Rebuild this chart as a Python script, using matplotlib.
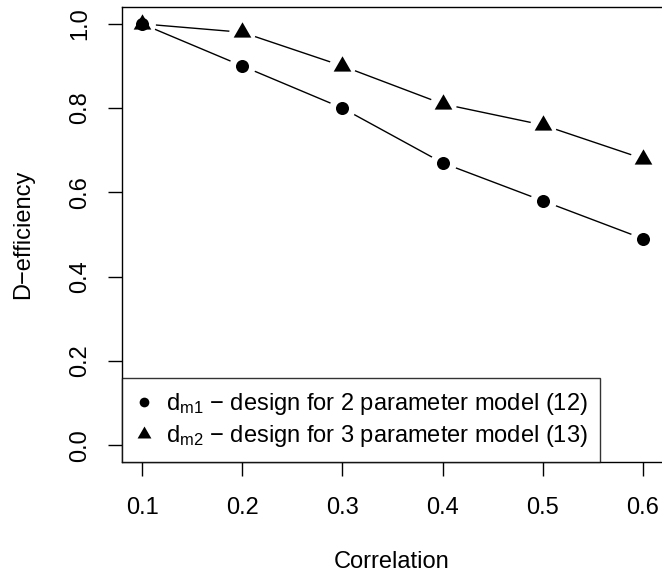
import numpy as np
import matplotlib.pyplot as plt
from matplotlib.path import Path
from matplotlib.lines import Line2D

plt.rcParams['font.family'] = ['Liberation Sans', 'DejaVu Sans']
plt.rcParams['mathtext.fontset'] = 'custom'
plt.rcParams['mathtext.rm'] = 'Liberation Sans'
plt.rcParams['mathtext.it'] = 'Liberation Sans:italic'

correlation = [0.1, 0.2, 0.3, 0.4, 0.5, 0.6]
eff_m1 = [1.00, 0.90, 0.80, 0.67, 0.58, 0.49]
eff_m2 = [1.00, 0.98, 0.90, 0.81, 0.76, 0.68]
labels = ['$\\mathrm{d_{m1}}$ \u2212 design for 2 parameter model (12)',
          '$\\mathrm{d_{m2}}$ \u2212 design for 3 parameter model (13)']
xticks = [0.1, 0.2, 0.3, 0.4, 0.5, 0.6]
yticks = [0.0, 0.2, 0.4, 0.6, 0.8, 1.0]

FS = 17

# equilateral triangle like R's pch 17
tri = Path([(-1, -0.5774), (1, -0.5774), (0, 1.1547), (-1, -0.5774)],
           [Path.MOVETO, Path.LINETO, Path.LINETO, Path.CLOSEPOLY])

W, H = 662, 575
fig = plt.figure(figsize=(W / 100, H / 100), dpi=100)
ax = fig.add_axes([122 / W, (H - 462) / H, 541 / W, 455 / H])

for y, mk, ms in [(eff_m1, 'o', 9.4), (eff_m2, tri, 14.7)]:
    ax.plot(correlation, y, color='black', lw=1.0, zorder=2)
    # white halo to leave gaps like type="b"
    ax.plot(correlation, y, linestyle='none', marker='o', ms=19,
            mfc='white', mec='none', zorder=2.1)
for y, mk, ms in [(eff_m1, 'o', 9.4), (eff_m2, tri, 14.7)]:
    ax.plot(correlation, y, linestyle='none', marker=mk, ms=ms,
            mfc='black', mec='black', mew=0, zorder=3)

ax.set_xlim(0.08, 0.62)
ax.set_ylim(-0.04, 1.04)
ax.set_xticks(xticks)
ax.set_xticklabels([f'{v:.1f}' for v in xticks])
ax.set_yticks(yticks)
ax.set_yticklabels([f'{v:.1f}' for v in yticks])
plt.setp(ax.get_yticklabels(), rotation=90, va='center')
ax.tick_params(length=10, width=1, labelsize=FS, color='black')
ax.tick_params(axis='x', pad=15.5)
ax.tick_params(axis='y', pad=12)
for s in ax.spines.values():
    s.set_linewidth(1.0)

fig.text(392 / W, 1 - 562 / H, 'Correlation', ha='center', va='center', fontsize=FS)
fig.text(23 / W, 1 - 234 / H, 'D\u2212efficiency', ha='center', va='center',
         rotation=90, fontsize=FS)

handles = [Line2D([], [], linestyle='none', marker='o', ms=7, mfc='black', mec='black', mew=0),
           Line2D([], [], linestyle='none', marker=tri, ms=11.5, mfc='black', mec='black', mew=0)]
leg = ax.legend(handles, labels, loc='lower left', bbox_to_anchor=(0, 0),
                borderaxespad=0, fontsize=FS, frameon=True, fancybox=False,
                handlelength=0.8, handletextpad=0.5, labelspacing=0.25,
                borderpad=0.55)
leg.get_frame().set_edgecolor('black')
leg.get_frame().set_linewidth(1.0)
leg.set_zorder(5)

fig.savefig('out.png', dpi=100)
